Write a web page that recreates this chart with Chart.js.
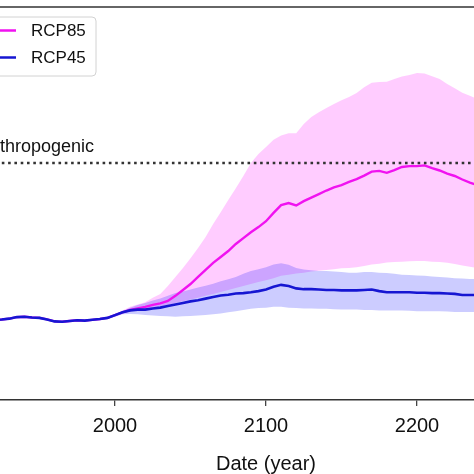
<!DOCTYPE html>
<html>
<head>
<meta charset="utf-8">
<script src="https://cdn.jsdelivr.net/npm/chart.js@4/dist/chart.umd.min.js"></script>
<style>
	html, body { margin: 0; padding: 0; background: #fff; overflow: hidden; }
	#wrap { position: relative; width: 474px; height: 474px; overflow: hidden; }
	#CanvasProjections { position: absolute; left: -100px; top: 0; }
</style>
</head>
<body>
<div id="wrap"><canvas id="CanvasProjections" width="700" height="474"></canvas></div>
<script>
var years = [1920, 1925, 1930, 1935, 1940, 1945, 1950, 1955, 1960, 1965, 1970, 1975, 1980, 1985, 1990, 1995,
	2000, 2005, 2010, 2015, 2020, 2025, 2030, 2035, 2040, 2045, 2050, 2055, 2060, 2065, 2070, 2075, 2080, 2085, 2090, 2095,
	2100, 2105, 2110, 2115, 2120, 2125, 2130, 2135, 2140, 2145, 2150, 2155, 2160, 2165, 2170, 2175, 2180, 2185, 2190, 2195,
	2200, 2205, 2210, 2215, 2220, 2225, 2230, 2235, 2240];

var rcp45Median = [2.04, 2.05, 2.07, 2.11, 2.12, 2.10, 2.09, 2.05, 2.00, 1.99, 2.01, 2.03, 2.02, 2.04, 2.06, 2.09,
	2.16, 2.23, 2.28, 2.30, 2.30, 2.33, 2.35, 2.39, 2.43, 2.47, 2.51, 2.54, 2.58, 2.62, 2.66, 2.68, 2.71, 2.72, 2.74, 2.77,
	2.81, 2.88, 2.93, 2.90, 2.84, 2.82, 2.82, 2.81, 2.80, 2.80, 2.79, 2.79, 2.79, 2.80, 2.81, 2.77, 2.74, 2.74, 2.74, 2.74,
	2.73, 2.73, 2.72, 2.72, 2.71, 2.70, 2.67, 2.67, 2.67];
var rcp45Upper = [2.05, 2.06, 2.08, 2.12, 2.13, 2.11, 2.10, 2.06, 2.01, 2.00, 2.02, 2.04, 2.03, 2.05, 2.07, 2.11,
	2.19, 2.26, 2.35, 2.42, 2.47, 2.53, 2.58, 2.65, 2.72, 2.76, 2.81, 2.86, 2.91, 2.96, 3.02, 3.07, 3.13, 3.21, 3.28, 3.33,
	3.38, 3.45, 3.48, 3.44, 3.36, 3.32, 3.30, 3.28, 3.28, 3.27, 3.26, 3.24, 3.24, 3.26, 3.26, 3.24, 3.23, 3.21, 3.19, 3.18,
	3.17, 3.16, 3.14, 3.13, 3.12, 3.10, 3.09, 3.08, 3.08];
var rcp45Lower = [2.03, 2.04, 2.06, 2.10, 2.11, 2.09, 2.08, 2.04, 1.99, 1.98, 2.00, 2.02, 2.01, 2.03, 2.05, 2.07,
	2.12, 2.18, 2.19, 2.18, 2.16, 2.15, 2.14, 2.13, 2.12, 2.13, 2.14, 2.15, 2.16, 2.18, 2.20, 2.23, 2.26, 2.29, 2.32, 2.34,
	2.35, 2.37, 2.37, 2.35, 2.34, 2.33, 2.33, 2.32, 2.32, 2.31, 2.30, 2.30, 2.30, 2.29, 2.29, 2.28, 2.28, 2.28, 2.28, 2.27,
	2.26, 2.26, 2.26, 2.26, 2.25, 2.24, 2.24, 2.24, 2.24];

var rcp85Median = [2.04, 2.05, 2.07, 2.11, 2.12, 2.10, 2.09, 2.05, 2.00, 1.99, 2.01, 2.03, 2.02, 2.04, 2.06, 2.09,
	2.16, 2.23, 2.29, 2.33, 2.37, 2.42, 2.46, 2.52, 2.65, 2.80, 2.95, 3.13, 3.31, 3.49, 3.64, 3.79, 3.97, 4.12, 4.27, 4.40,
	4.55, 4.76, 4.96, 5.01, 4.95, 5.06, 5.15, 5.24, 5.33, 5.41, 5.47, 5.55, 5.62, 5.71, 5.81, 5.83, 5.78, 5.85, 5.93, 5.95,
	5.95, 5.97, 5.90, 5.84, 5.76, 5.70, 5.61, 5.53, 5.47];
var rcp85Upper = [2.05, 2.06, 2.08, 2.12, 2.13, 2.11, 2.10, 2.06, 2.01, 2.00, 2.02, 2.04, 2.03, 2.05, 2.07, 2.11,
	2.19, 2.28, 2.37, 2.43, 2.49, 2.60, 2.70, 2.90, 3.13, 3.36, 3.61, 3.87, 4.15, 4.48, 4.78, 5.09, 5.39, 5.70, 6.03, 6.26,
	6.44, 6.62, 6.73, 6.79, 6.79, 7.02, 7.20, 7.32, 7.43, 7.53, 7.63, 7.71, 7.81, 7.96, 8.07, 8.09, 8.10, 8.17, 8.23, 8.27,
	8.32, 8.31, 8.24, 8.17, 8.04, 7.93, 7.82, 7.74, 7.66];
var rcp85Lower = [2.03, 2.04, 2.06, 2.10, 2.11, 2.09, 2.08, 2.04, 1.99, 1.98, 2.00, 2.02, 2.01, 2.03, 2.05, 2.07,
	2.14, 2.21, 2.26, 2.29, 2.32, 2.34, 2.38, 2.42, 2.47, 2.51, 2.56, 2.60, 2.65, 2.70, 2.75, 2.80, 2.85, 2.90, 2.95, 3.00,
	3.05, 3.10, 3.16, 3.19, 3.22, 3.24, 3.27, 3.29, 3.31, 3.33, 3.35, 3.36, 3.38, 3.41, 3.45, 3.47, 3.50, 3.51, 3.52, 3.53,
	3.54, 3.54, 3.52, 3.51, 3.49, 3.46, 3.42, 3.39, 3.36];

var anthropogenicLevel = 6.03;
var anthropogenicLabel = 'Anthropogenic';
var xTicks = [1900, 2000, 2100, 2200, 2300];
var seriesNames = ['RCP85', 'RCP45'];

var pinkLine = '#f012f0';
var blueLine = '#1616d2';
var pinkBand = 'rgba(255, 0, 255, 0.2)';
var blueBand = 'rgba(0, 0, 255, 0.2)';
var noColor = 'rgba(0, 0, 0, 0)';

function ToPoints(values) {
	var points = [];
	for (var i = 0; i < years.length; i++) {
		points.push({ x: years[i], y: values[i] });
	}
	return points;
}

// legend, label and top frame line drawn by hand
var decorations = {
	id: 'decorations',
	afterDraw: function (chart) {
		var ctx = chart.ctx;
		var area = chart.chartArea;
		var yScale = chart.scales.y;

		ctx.save();
		ctx.strokeStyle = '#333';
		ctx.lineWidth = 1.5;
		ctx.beginPath();
		ctx.moveTo(area.left, area.top);
		ctx.lineTo(area.right, area.top);
		ctx.stroke();

		ctx.fillStyle = '#111';
		ctx.font = '18px "Liberation Sans", Arial, sans-serif';
		ctx.textBaseline = 'alphabetic';
		ctx.textAlign = 'left';
		ctx.fillText(anthropogenicLabel, area.left + 14, yScale.getPixelForValue(anthropogenicLevel) - 11);

		// legend box
		var bx = area.left + 8, by = 17, bw = 124, bh = 59;
		ctx.beginPath();
		ctx.roundRect(bx, by, bw, bh, 4);
		ctx.fillStyle = 'rgba(255,255,255,0.85)';
		ctx.fill();
		ctx.strokeStyle = '#d2d2d2';
		ctx.lineWidth = 1;
		ctx.stroke();

		var colors = [pinkLine, blueLine];
		ctx.font = '17px "Liberation Sans", Arial, sans-serif';
		ctx.textBaseline = 'middle';
		for (var i = 0; i < seriesNames.length; i++) {
			var ly = 30.5 + i * 27;
			ctx.strokeStyle = colors[i];
			ctx.lineWidth = 2.5;
			ctx.beginPath();
			ctx.moveTo(bx + 8, ly);
			ctx.lineTo(bx + 44, ly);
			ctx.stroke();
			ctx.fillStyle = '#111';
			ctx.fillText(seriesNames[i], bx + 59, ly + 1);
		}
		ctx.restore();
	}
};

function BindProjectionsToGraph() {
	var datasets = [];

	datasets.push({
		label: anthropogenicLabel,
		data: [{ x: xTicks[0], y: anthropogenicLevel }, { x: xTicks[xTicks.length - 1], y: anthropogenicLevel }],
		borderColor: '#333',
		borderWidth: 2.6,
		borderDash: [2.6, 3.7],
		fill: false,
		order: 0
	});
	datasets.push({
		label: 'RCP45',
		data: ToPoints(rcp45Median),
		borderColor: blueLine,
		borderWidth: 2.6,
		fill: false,
		order: 1
	});
	datasets.push({
		label: 'RCP45 upper',
		data: ToPoints(rcp45Upper),
		borderColor: noColor,
		borderWidth: 1,
		backgroundColor: blueBand,
		fill: '+1',
		order: 3
	});
	datasets.push({
		label: 'RCP45 lower',
		data: ToPoints(rcp45Lower),
		borderColor: noColor,
		borderWidth: 1,
		fill: false,
		order: 4
	});
	datasets.push({
		label: 'RCP85',
		data: ToPoints(rcp85Median),
		borderColor: pinkLine,
		borderWidth: 2.4,
		fill: false,
		order: 2
	});
	datasets.push({
		label: 'RCP85 upper',
		data: ToPoints(rcp85Upper),
		borderColor: noColor,
		borderWidth: 1,
		backgroundColor: pinkBand,
		fill: '+1',
		order: 5
	});
	datasets.push({
		label: 'RCP85 lower',
		data: ToPoints(rcp85Lower),
		borderColor: noColor,
		borderWidth: 1,
		fill: false,
		order: 6
	});

	var context = document.getElementById('CanvasProjections');
	var myChart = new Chart(context, {
		type: 'line',
		data: { datasets: datasets },
		options: {
			responsive: false,
			animation: false,
			devicePixelRatio: 1,
			layout: { padding: { left: 64, right: 32, top: 7, bottom: 0 } },
			elements: { point: { radius: 0 }, line: { tension: 0 } },
			plugins: {
				legend: { display: false },
				tooltip: { enabled: false }
			},
			scales: {
				x: {
					type: 'linear',
					min: xTicks[0],
					max: xTicks[xTicks.length - 1],
					afterBuildTicks: function (scale) {
						scale.ticks = xTicks.map(function (v) { return { value: v }; });
					},
					afterFit: function (scale) {
						scale.height = 74;
					},
					ticks: {
						color: '#111',
						padding: 8,
						maxRotation: 0,
						font: { family: '"Liberation Sans", Arial, sans-serif', size: 20 },
						callback: function (value) { return String(value); }
					},
					grid: {
						drawOnChartArea: false,
						drawTicks: true,
						tickLength: 6,
						color: '#444',
						lineWidth: 1.3
					},
					border: { display: true, color: '#333', width: 1.5 },
					title: {
						display: true,
						text: 'Date (year)',
						color: '#111',
						padding: 0,
						font: { family: '"Liberation Sans", Arial, sans-serif', size: 20, lineHeight: 1 }
					}
				},
				y: {
					display: false,
					min: 0,
					max: 10
				}
			}
		},
		plugins: [decorations]
	});
}

BindProjectionsToGraph();
</script>
</body>
</html>
